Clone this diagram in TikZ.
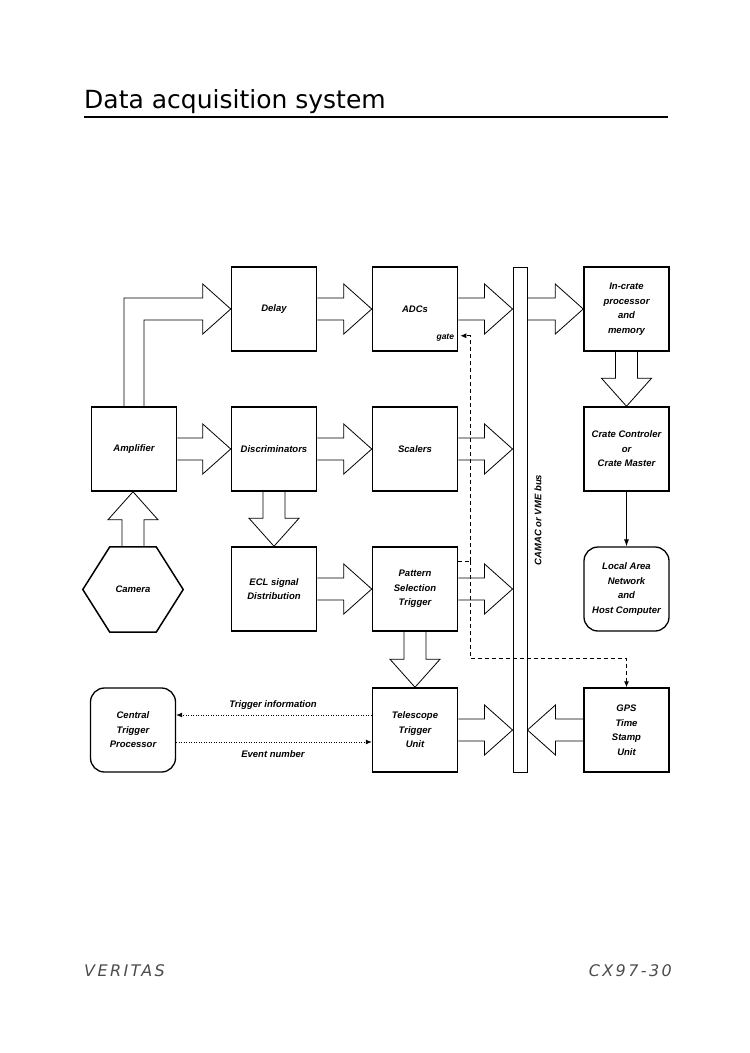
\documentclass[tikz,border=0pt]{standalone}
\usepackage{fontspec}
\setmainfont{Liberation Sans}
\newfontfamily\ttlfont{DejaVu Sans}
\newfontfamily\footfont[LetterSpace=15]{DejaVu Sans}
\usetikzlibrary{calc,shapes.geometric,arrows.meta}

\tikzset{
  blk/.style={draw, line width=1.5pt, minimum width=85pt, minimum height=84pt, inner sep=0pt, align=center,
    font=\fontsize{9.5}{14.5}\selectfont\bfseries\itshape},
  rblk/.style={blk, rounded corners=14pt, line width=1.3pt},
  hexlbl/.style={minimum width=100pt, minimum height=85pt, inner sep=0pt, align=center,
    font=\fontsize{9.5}{14.5}\selectfont\bfseries\itshape},
  hexline/.style={line width=1.5pt, line join=miter},
  fat/.style={draw, line width=0.8pt, line join=miter},
  lbl/.style={font=\fontsize{9.5}{11}\selectfont\bfseries\itshape, inner sep=0pt},
  dsh/.style={dash pattern=on 4pt off 3pt, line width=1pt},
  dtd/.style={dash pattern=on 1pt off 1.5pt, line width=0.8pt},
}

\newcommand\fatarrow[2]{%
  \coordinate (fa) at (#1); \coordinate (fb) at (#2);
  \coordinate (fh) at ($(fb)!28pt!(fa)$);
  \draw[fat] ($(fa)!11pt!90:(fb)$) -- ($(fh)!11pt!-90:(fa)$) -- ($(fh)!25pt!-90:(fa)$) -- (fb)
     -- ($(fh)!25pt!90:(fa)$) -- ($(fh)!11pt!90:(fa)$) -- ($(fa)!11pt!-90:(fb)$);}

\begin{document}
\begin{tikzpicture}[x=1pt,y=-1pt]
\path[use as bounding box] (0,0) rectangle (750,1053);

% title
\node[anchor=base west, inner sep=0pt, font=\ttlfont\fontsize{25}{28}\selectfont] (title) at (84,108) {Data acquisition system};
\coordinate (rl) at (84,117);
\coordinate (rr) at (668,117);
\draw[line width=1.4pt] (rl) -- (rr);

% blocks
\node[blk] (delay) at (274,309) {Delay};
\node[blk] (adc) at (415,309) {ADCs};
\node[blk] (incrate) at (626.5,309) {In-crate\\processor\\and\\memory};
\node[blk] (amp) at (134,449) {Amplifier};
\node[blk] (disc) at (274,449) {Discriminators};
\node[blk] (scal) at (415,449) {Scalers};
\node[blk] (crate) at (626.5,449) {Crate Controler\\or\\Crate Master};
\node[hexlbl] (camera) at (133,589.5) {Camera};
\draw[hexline] (camera.west) -- ([xshift=27pt]camera.north west) -- ([xshift=-27pt]camera.north east)
   -- (camera.east) -- ([xshift=-27pt]camera.south east) -- ([xshift=27pt]camera.south west) -- cycle;
\node[blk] (ecl) at (274,589) {ECL signal\\Distribution};
\node[blk] (pst) at (415,589) {Pattern\\Selection\\Trigger};
\node[rblk] (lan) at (626.5,589) {Local Area\\Network\\and\\Host Computer};
\node[rblk] (ctp) at (133,730) {Central\\Trigger\\Processor};
\node[blk] (ttu) at (415,730) {Telescope\\Trigger\\Unit};
\node[blk] (gps) at (626.5,730) {GPS\\Time\\Stamp\\Unit};

% bus
\node[draw, line width=0.9pt, minimum width=14pt, minimum height=505pt, inner sep=0pt] (bus) at (520,519.5) {};
\node[lbl, rotate=90] (buslbl) at (538,520) {CAMAC or VME bus};

% fat arrows
\draw[fat] ([xshift=-10pt]amp.north) |- ($(delay.west)+(-28,-11)$) -- ($(delay.west)+(-28,-25)$) -- (delay.west)
   -- ($(delay.west)+(-28,25)$) -- ($(delay.west)+(-28,11)$) -| ([xshift=10pt]amp.north);
\fatarrow{delay.east}{adc.west}
\fatarrow{adc.east}{adc.east -| bus.west}
\fatarrow{bus.east |- incrate.west}{incrate.west}
\fatarrow{incrate.south}{crate.north}
\fatarrow{amp.east}{disc.west}
\fatarrow{disc.east}{scal.west}
\fatarrow{scal.east}{scal.east -| bus.west}
\fatarrow{disc.south}{ecl.north}
\fatarrow{camera.north}{camera.north |- amp.south}
\fatarrow{ecl.east}{pst.west}
\fatarrow{pst.east}{pst.east -| bus.west}
\fatarrow{pst.south}{ttu.north}
\fatarrow{ttu.east}{ttu.east -| bus.west}
\fatarrow{gps.west}{gps.west -| bus.east}

% thin arrow
\draw[line width=0.8pt, -{Latex[length=7pt,width=5pt]}] (crate.south) -- (lan.north);

% gate and dashed lines
\node[lbl, anchor=east, font=\fontsize{8.5}{10}\selectfont\bfseries\itshape] (gate) at ([xshift=-4pt,yshift=14pt]adc.south east) {gate};
\coordinate (gtip) at ([xshift=2pt,yshift=16pt]adc.south east);
\coordinate (dx) at (470,561);
\coordinate (dturn) at ($(gps.north)+(0,-29)$);
\draw[dsh] (pst.east |- dx) -- (dx);
\draw[dsh, -{Latex[length=6pt,width=5pt]}] (dx) |- (gtip);
\draw[dsh, -{Latex[length=6pt,width=5pt]}] (dx) |- (dturn) -- (gps.north);

% dotted arrows
\draw[dtd, -{Latex[length=6pt,width=5pt]}] ([yshift=15pt]ttu.west) -- ([yshift=15pt]ctp.east);
\draw[dtd, -{Latex[length=6pt,width=5pt]}] ([yshift=-12pt]ctp.east) -- ([yshift=-12pt]ttu.west);
\node[lbl] (tinfo) at (273,705) {Trigger information};
\node[lbl] (evnum) at (273,754) {Event number};

% footer
\node[anchor=base west, inner sep=0pt, text=black!70, font=\footfont\itshape\fontsize{16}{18}\selectfont] (foot1) at (84,976) {VERITAS};
\node[anchor=base east, inner sep=0pt, text=black!70, font=\footfont\itshape\fontsize{16}{18}\selectfont] (foot2) at (672,976) {CX97-30};
\end{tikzpicture}
\end{document}
